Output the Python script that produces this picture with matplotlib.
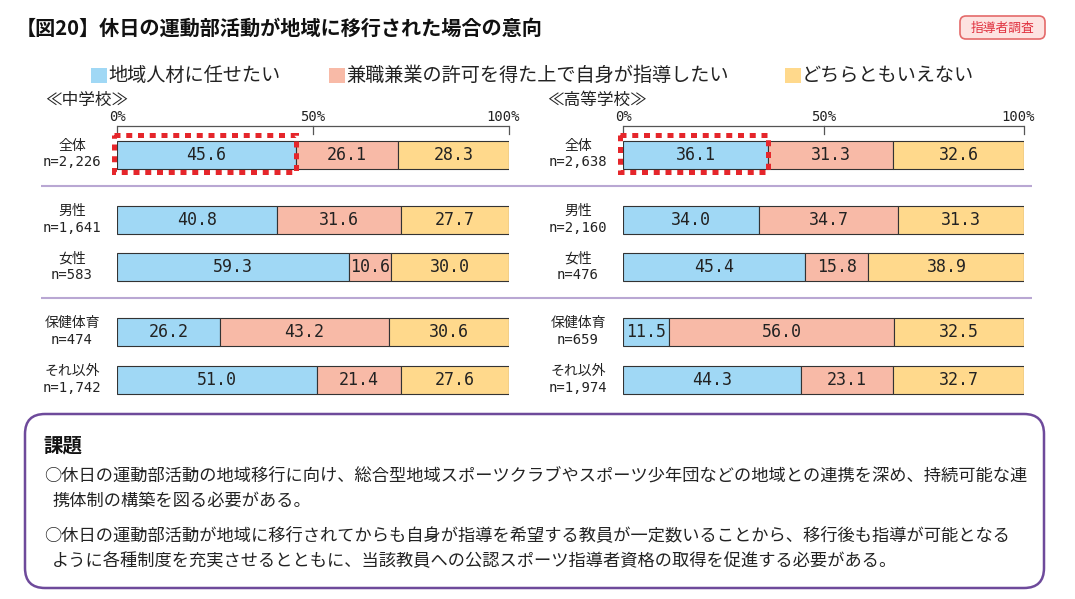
import matplotlib
matplotlib.use('Agg')
import matplotlib.pyplot as plt
from matplotlib.patches import Rectangle, FancyBboxPatch

plt.rcParams['font.family'] = ['Noto Sans CJK JP', 'DejaVu Sans']

# ---------------- data ----------------
title = '【図20】休日の運動部活動が地域に移行された場合の意向'
badge = '指導者調査'
series = ['地域人材に任せたい', '兼職兼業の許可を得た上で自身が指導したい', 'どちらともいえない']
categories = ['全体', '男性', '女性', '保健体育', 'それ以外']
section_jhs = '≪中学校≫'
section_hs = '≪高等学校≫'
n_jhs = ['n=2,226', 'n=1,641', 'n=583', 'n=474', 'n=1,742']
n_hs = ['n=2,638', 'n=2,160', 'n=476', 'n=659', 'n=1,974']
jhs_local = [45.6, 40.8, 59.3, 26.2, 51.0]
jhs_self = [26.1, 31.6, 10.6, 43.2, 21.4]
jhs_neither = [28.3, 27.7, 30.0, 30.6, 27.6]
hs_local = [36.1, 34.0, 45.4, 11.5, 44.3]
hs_self = [31.3, 34.7, 15.8, 56.0, 23.1]
hs_neither = [32.6, 31.3, 38.9, 32.5, 32.7]
tick_vals = [0, 50, 100]
tick_labels = ['0%', '50%', '100%']
issue_title = '課題'
issue_lines = [
    '○休日の運動部活動の地域移行に向け、総合型地域スポーツクラブやスポーツ少年団などの地域との連携を深め、持続可能な連',
    '携体制の構築を図る必要がある。',
    '○休日の運動部活動が地域に移行されてからも自身が指導を希望する教員が一定数いることから、移行後も指導が可能となる',
    'ように各種制度を充実させるとともに、当該教員への公認スポーツ指導者資格の取得を促進する必要がある。',
]

# ---------------- layout / style ----------------
W, H = 1075, 599
colors = ['#A0D8F5', '#F8BAA7', '#FFD98C']
row_y = [154.5, 219.5, 267, 331.5, 379.5]
bar_h = 28
MONO = ['DejaVu Sans Mono', 'Noto Sans CJK JP']

fig = plt.figure(figsize=(W / 100, H / 100), dpi=100)
bg = fig.add_axes([0, 0, 1, 1])
bg.set_xlim(0, W)
bg.set_ylim(H, 0)
bg.axis('off')

# title & badge
bg.text(16, 28, title, fontsize=14.5, fontweight='bold', ha='left', va='center', color='#111')
bg.add_patch(FancyBboxPatch((960, 16), 85, 23, boxstyle='round,pad=0,rounding_size=6',
                            fc='#FDE3E1', ec='#E46A6A', lw=1.2))
bg.text(1002.5, 28, badge, fontsize=9.2, ha='center', va='center', color='#E0313F')

# legend
leg_x = [91, 329, 785]
for lx, col, name in zip(leg_x, colors, series):
    bg.add_patch(Rectangle((lx, 68), 16, 15, fc=col, ec='none'))
    bg.text(lx + 17, 75.5, name, fontsize=13.8, ha='left', va='center', color='#222')

# separators
for sy in [186, 298]:
    bg.plot([41, 1032], [sy, sy], color='#B9A7D3', lw=1.5, solid_capstyle='butt')


def draw_chart(x0, x1, data, ns, label_cx, section, section_x):
    ax = fig.add_axes([x0 / W, 0, (x1 - x0) / W, 1])
    ax.set_xlim(0, 100)
    ax.set_ylim(H, 0)
    ax.axis('off')
    pxper = (x1 - x0) / 100.0
    left = [0.0] * len(row_y)
    for vals, col in zip(data, colors):
        ax.barh(row_y, vals, left=left, height=bar_h, color=col, edgecolor='#333333',
                linewidth=0.8, zorder=2)
        for y, v, l in zip(row_y, vals, left):
            ax.text(l + v / 2, y + 0.5, f'{v:.1f}', ha='center', va='center',
                    family='DejaVu Sans Mono', fontsize=12, color='#222', zorder=3)
        left = [a + b for a, b in zip(left, vals)]
    # axis
    ax.plot([0, 100], [125.5, 125.5], color='#555', lw=0.9, clip_on=False, solid_capstyle='butt')
    for t, lab in zip(tick_vals, tick_labels):
        ax.plot([t, t], [125.5, 134], color='#555', lw=0.9, clip_on=False)
        off = -6 / pxper if t == 100 else 0
        ax.text(t + off, 117, lab, ha='center', va='center', family='DejaVu Sans Mono',
                fontsize=10, color='#222', clip_on=False)
    # highlight box around first segment of first row
    pad = 3 / pxper
    ax.add_patch(Rectangle((-pad, 135.3), data[0][0] + pad, 172 - 135.3, fill=False,
                           ec='#E5262B', lw=3.6, linestyle=(0, (1.2, 1.15)),
                           clip_on=False, zorder=4))
    # row labels
    for y, cat, n in zip(row_y, categories, ns):
        bg.text(label_cx, y - 8.5, cat, ha='center', va='center', fontsize=10, color='#222')
        bg.text(label_cx, y + 8, n, ha='center', va='center', family=MONO, fontsize=10, color='#222')
    bg.text(section_x, 100.5, section, ha='left', va='center', fontsize=12, color='#222')


draw_chart(117, 509, [jhs_local, jhs_self, jhs_neither], n_jhs, 72, section_jhs, 45)
draw_chart(623, 1024, [hs_local, hs_self, hs_neither], n_hs, 578, section_hs, 547)

# issue box
bg.add_patch(FancyBboxPatch((25, 414), 1019, 174, boxstyle='round,pad=0,rounding_size=20',
                            fc='white', ec='#6E4A9B', lw=1.8))
bg.text(43, 446, issue_title, fontsize=14, fontweight='bold', ha='left', va='center', color='#111')
line_x = [44, 52, 44, 52]
line_y = [475.5, 501, 535, 561.5]
for lx, ly, txt in zip(line_x, line_y, issue_lines):
    bg.text(lx, ly, txt, fontsize=12.4, ha='left', va='center', color='#222')

fig.savefig('out.png', dpi=100)
